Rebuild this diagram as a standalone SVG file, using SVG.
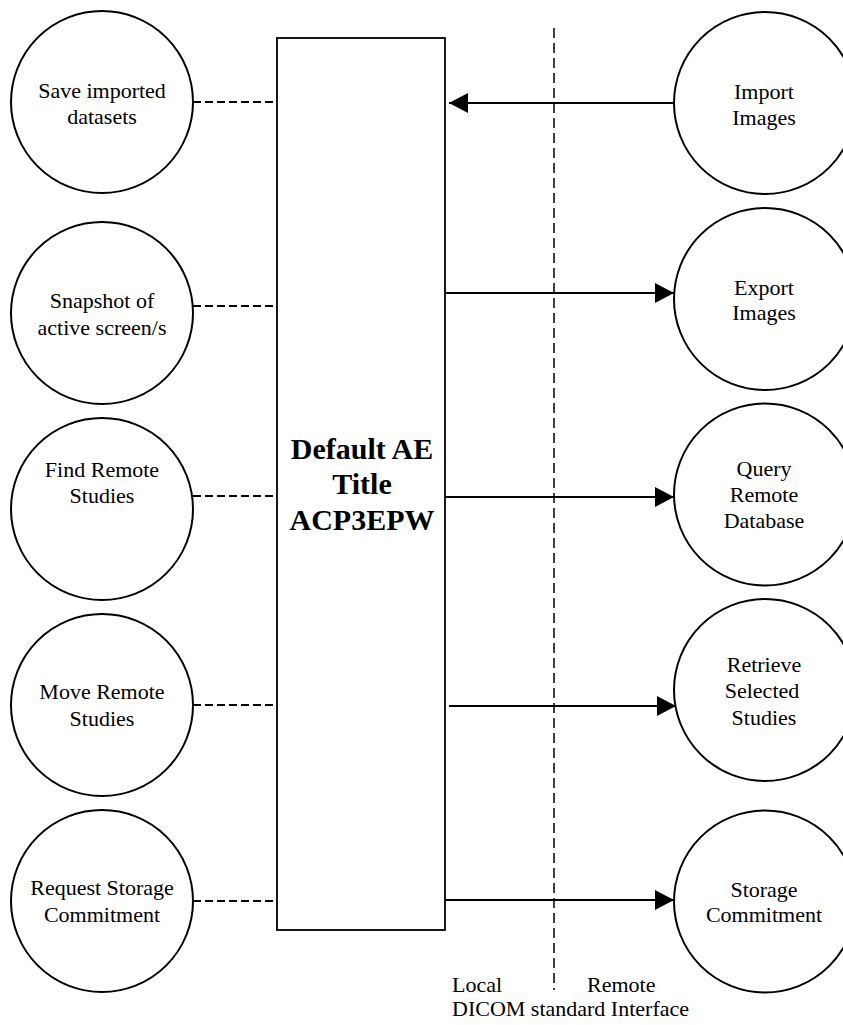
<svg xmlns="http://www.w3.org/2000/svg" width="843" height="1025" viewBox="0 0 843 1025">
<style>
.node{fill:#fff;stroke:#000;stroke-width:2}
.t{font-family:"Liberation Serif","Times New Roman",serif;font-size:22px;fill:#000;text-anchor:middle}
.tl{font-family:"Liberation Serif","Times New Roman",serif;font-size:22px;fill:#000}
.tb{font-family:"Liberation Serif","Times New Roman",serif;font-size:30px;font-weight:bold;fill:#000;text-anchor:middle}
.dash{stroke:#000;stroke-width:2;stroke-dasharray:8 4;fill:none}
.arr{stroke:#000;stroke-width:2;fill:none;marker-end:url(#ah)}
.sep{stroke:#000;stroke-width:1.5;stroke-dasharray:10 5;fill:none}
</style>
<defs>
<marker id="ah" markerWidth="20" markerHeight="20" viewBox="0 0 20 20" refX="19" refY="10" orient="auto" markerUnits="userSpaceOnUse">
<path d="M0,0 L19,10 L0,20 Z" fill="#000"/>
</marker>
</defs>
<rect width="843" height="1025" fill="#fff"/>
<g id="separator">
<line class="sep" x1="554" y1="28" x2="554" y2="990"/>
</g>
<g id="ae">
<rect class="node" x="277" y="38" width="168" height="892" style="stroke-width:1.8"/>
<text class="tb" x="362" y="459">Default AE</text>
<text class="tb" x="362" y="494">Title</text>
<text class="tb" x="362" y="530">ACP3EPW</text>
</g>
<g id="connectors">
<line class="dash" x1="193" y1="102" x2="277" y2="102"/>
<line class="dash" x1="193" y1="306" x2="277" y2="306"/>
<line class="dash" x1="193" y1="496" x2="277" y2="496"/>
<line class="dash" x1="193" y1="705" x2="277" y2="705"/>
<line class="dash" x1="193" y1="901" x2="277" y2="901"/>
<line class="arr" x1="674" y1="103" x2="449" y2="103"/>
<line class="arr" x1="445" y1="293" x2="674" y2="293"/>
<line class="arr" x1="445" y1="497" x2="674" y2="497"/>
<line class="arr" x1="449" y1="706" x2="676" y2="706"/>
<line class="arr" x1="445" y1="900" x2="674" y2="900"/>
</g>
<g id="save">
<circle class="node" cx="102" cy="102" r="91"/>
<text class="t" x="102" y="98">Save imported</text>
<text class="t" x="102" y="124">datasets</text>
</g>
<g id="snapshot">
<circle class="node" cx="102" cy="313" r="91"/>
<text class="t" x="102" y="308">Snapshot of</text>
<text class="t" x="102" y="335">active screen/s</text>
</g>
<g id="find">
<circle class="node" cx="102" cy="509" r="91"/>
<text class="t" x="102" y="477">Find Remote</text>
<text class="t" x="102" y="503">Studies</text>
</g>
<g id="move">
<circle class="node" cx="102" cy="705" r="91"/>
<text class="t" x="102" y="699">Move Remote</text>
<text class="t" x="102" y="726">Studies</text>
</g>
<g id="request">
<circle class="node" cx="102" cy="901" r="91"/>
<text class="t" x="102" y="895">Request Storage</text>
<text class="t" x="102" y="922">Commitment</text>
</g>
<g id="import">
<circle class="node" cx="765" cy="103" r="91"/>
<text class="t" x="764" y="99">Import</text>
<text class="t" x="764" y="125">Images</text>
</g>
<g id="export">
<circle class="node" cx="765" cy="299" r="91"/>
<text class="t" x="764" y="295">Export</text>
<text class="t" x="764" y="320">Images</text>
</g>
<g id="query">
<circle class="node" cx="765" cy="494.5" r="91"/>
<text class="t" x="764" y="476">Query</text>
<text class="t" x="764" y="502">Remote</text>
<text class="t" x="764" y="528">Database</text>
</g>
<g id="retrieve">
<circle class="node" cx="765" cy="690" r="91"/>
<text class="t" x="764" y="672">Retrieve</text>
<text class="t" x="762" y="698">Selected</text>
<text class="t" x="764" y="725">Studies</text>
</g>
<g id="storage">
<circle class="node" cx="765" cy="901.5" r="91"/>
<text class="t" x="764" y="897">Storage</text>
<text class="t" x="764" y="922">Commitment</text>
</g>
<g id="labels">
<text class="tl" x="452" y="992">Local</text>
<text class="tl" x="587" y="992">Remote</text>
<text class="tl" x="452" y="1016">DICOM standard Interface</text>
</g>
</svg>
